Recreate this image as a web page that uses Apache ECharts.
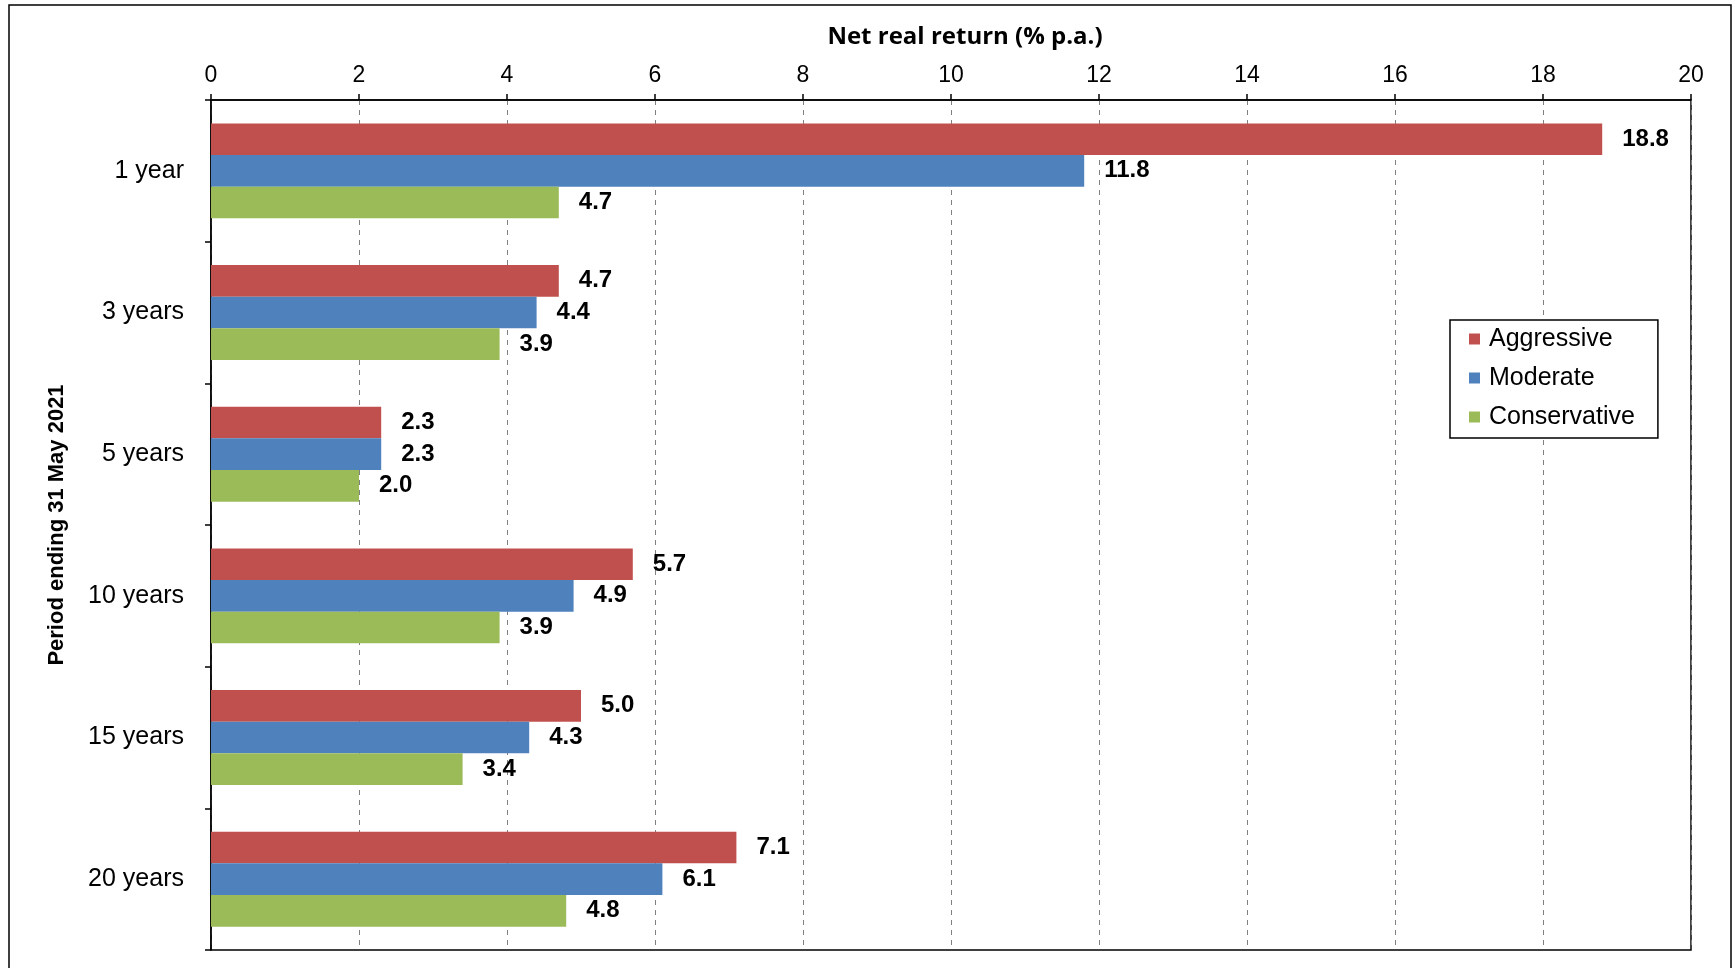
<!DOCTYPE html>
<html>
<head>
<meta charset="utf-8">
<script src="https://cdn.jsdelivr.net/npm/echarts@6/dist/echarts.min.js"></script>
<style>
  html, body { margin: 0; padding: 0; background: #fff; }
  #chart { width: 1735px; height: 968px; }
</style>
</head>
<body>
<div id="chart"></div>
<script>
// Net real return by investment period, per portfolio profile
var periods = ['1 year', '3 years', '5 years', '10 years', '15 years', '20 years'];
var aggressive = [18.8, 4.7, 2.3, 5.7, 5.0, 7.1];
var moderate = [11.8, 4.4, 2.3, 4.9, 4.3, 6.1];
var conservative = [4.7, 3.9, 2.0, 3.9, 3.4, 4.8];
var seriesNames = ['Aggressive', 'Moderate', 'Conservative'];
var seriesColors = ['#C0504D', '#4F81BD', '#9BBB59'];

var chart = echarts.init(document.getElementById('chart'), null, { renderer: 'canvas' });

function barSeries(name, data, color) {
  return {
    name: name,
    type: 'bar',
    data: data,
    barGap: '0%',
    barCategoryGap: '33%',
    itemStyle: { color: color },
    label: {
      show: true,
      position: 'right',
      distance: 20,
      fontFamily: 'Liberation Sans, Arial, sans-serif',
      fontWeight: 'bold',
      fontSize: 24,
      color: '#000',
      formatter: function (p) { return p.value.toFixed(1); }
    }
  };
}

var option = {
  animation: false,
  backgroundColor: '#fff',
  textStyle: { fontFamily: 'Liberation Sans, Arial, sans-serif' },
  graphic: [{
    type: 'rect',
    shape: { x: 9, y: 5, width: 1722, height: 1000 },
    style: { fill: 'none', stroke: '#000', lineWidth: 1.5 },
    silent: true,
    z: 100
  }],
  grid: {
    left: 211, right: 44, top: 100, bottom: 18,
    show: true, borderColor: '#000', borderWidth: 1.5,
    containLabel: false
  },
  legend: {
    data: seriesNames,
    orient: 'vertical',
    left: 1450,
    top: 320,
    icon: 'rect',
    itemWidth: 11,
    itemHeight: 11,
    itemGap: 13,
    padding: [6, 23, 8, 19],
    borderColor: '#000',
    borderWidth: 1.5,
    backgroundColor: '#fff',
    textStyle: {
      fontFamily: 'Liberation Sans, Arial, sans-serif',
      fontSize: 25,
      lineHeight: 26,
      color: '#000',
      padding: [0, 0, 0, 4]
    }
  },
  xAxis: {
    type: 'value',
    position: 'top',
    min: 0,
    max: 20,
    interval: 2,
    name: 'Net real return (% p.a.)',
    nameLocation: 'middle',
    nameGap: 51,
    nameTextStyle: {
      fontFamily: 'Open Sans, Lato, sans-serif',
      fontWeight: 'bold',
      fontSize: 24,
      color: '#000',
      padding: [0, 0, 0, 28]
    },
    axisLine: { show: true, lineStyle: { color: '#000', width: 1.5 } },
    axisTick: { show: true, inside: false, length: 6, lineStyle: { color: '#000', width: 1.5 } },
    axisLabel: { fontSize: 23, color: '#000', margin: 13 },
    splitLine: { show: true, lineStyle: { color: '#808080', width: 1, type: [5, 5] } }
  },
  yAxis: {
    type: 'category',
    data: periods,
    inverse: true,
    name: 'Period ending 31 May 2021',
    nameLocation: 'middle',
    nameGap: 143,
    nameRotate: 90,
    nameTextStyle: {
      fontFamily: 'Liberation Sans, Arial, sans-serif',
      fontWeight: 'bold',
      fontSize: 22,
      color: '#000'
    },
    axisLine: { show: true, lineStyle: { color: '#000', width: 1.5 } },
    axisTick: { show: true, alignWithLabel: false, inside: false, length: 6, lineStyle: { color: '#000', width: 1.5 } },
    axisLabel: { fontSize: 25, color: '#000', margin: 27 },
    splitLine: { show: false }
  },
  series: [
    barSeries(seriesNames[0], aggressive, seriesColors[0]),
    barSeries(seriesNames[1], moderate, seriesColors[1]),
    barSeries(seriesNames[2], conservative, seriesColors[2])
  ]
};

chart.setOption(option);
</script>
</body>
</html>
